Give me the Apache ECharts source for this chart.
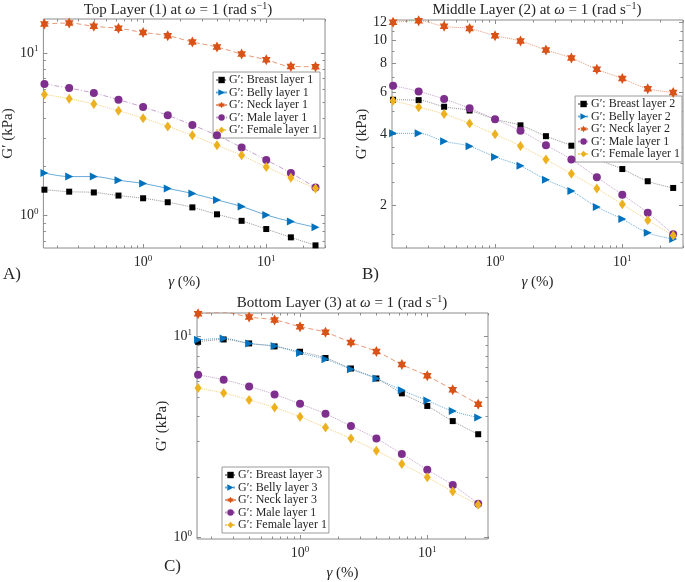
<!DOCTYPE html>
<html><head><meta charset="utf-8">
<script src="https://cdn.jsdelivr.net/npm/echarts@6/dist/echarts.min.js"></script>
<style>html,body{margin:0;padding:0;background:#fff}#c{width:685px;height:582px}</style>
</head><body><div id="c"></div>
<script>
// strain amplitude gamma (%)
const strain = [0.158, 0.251, 0.398, 0.631, 1, 1.585, 2.512, 3.981, 6.31, 10, 15.85, 25.12];

// Panel A: Top layer (1) G' (kPa)
const A_breast = [1.445, 1.405, 1.39, 1.33, 1.28, 1.21, 1.125, 1.02, 0.93, 0.828, 0.736, 0.657];
const A_belly  = [1.83, 1.74, 1.74, 1.65, 1.58, 1.47, 1.37, 1.25, 1.14, 1.01, 0.92, 0.848];
const A_neck   = [15.1, 15.3, 14.6, 14.2, 13.4, 12.8, 11.7, 10.9, 9.86, 9.1, 8.28, 8.24];
const A_male   = [6.45, 6.09, 5.68, 5.17, 4.66, 4.14, 3.61, 3.12, 2.63, 2.20, 1.83, 1.49];
const A_female = [5.57, 5.24, 4.86, 4.42, 3.98, 3.54, 3.12, 2.71, 2.35, 1.99, 1.71, 1.47];

// Panel B: Middle layer (2)
const B_breast = [5.6, 5.58, 5.23, 5.04, 4.63, 4.36, 3.92, 3.57, 3.14, 2.84, 2.52, 2.36];
const B_belly  = [4.03, 4.03, 3.73, 3.55, 3.20, 2.93, 2.56, 2.29, 1.96, 1.74, 1.52, 1.43];
const B_neck   = [11.96, 12.16, 11.5, 11.25, 10.5, 9.96, 9.12, 8.43, 7.55, 6.9, 6.24, 6.02];
const B_male   = [6.43, 6.08, 5.64, 5.15, 4.63, 4.13, 3.59, 3.12, 2.62, 2.21, 1.85, 1.50];
const B_female = [5.55, 5.21, 4.87, 4.44, 3.99, 3.56, 3.12, 2.71, 2.35, 2.01, 1.72, 1.48];

// Panel C: Bottom layer (3)
const C_breast = [9.41, 9.67, 9.24, 8.93, 8.40, 7.82, 6.93, 6.18, 5.21, 4.51, 3.79, 3.26];
const C_belly  = [9.63, 9.78, 9.24, 8.96, 8.27, 7.70, 6.87, 6.18, 5.40, 4.80, 4.25, 3.95];
const C_neck   = [13.0, 13.2, 12.5, 12.1, 11.2, 10.5, 9.34, 8.43, 7.25, 6.37, 5.43, 4.60];
const C_male   = [6.45, 6.09, 5.64, 5.15, 4.62, 4.12, 3.58, 3.10, 2.60, 2.17, 1.82, 1.47];
const C_female = [5.54, 5.23, 4.83, 4.43, 3.98, 3.52, 3.10, 2.70, 2.32, 1.99, 1.69, 1.45];

// tick values
const xMajor = [1, 10];
const xMinor = [0.2,0.3,0.4,0.5,0.6,0.7,0.8,0.9,2,3,4,5,6,7,8,9,20,30];
const yMajorAC = [1, 10];
const yMinorA = [0.7,0.8,0.9,2,3,4,5,6,7,8,9];
const yMinorC = [2,3,4,5,6,7,8,9];
const yMajorB = [2,4,6,8,10,12];
const yMinorB = [1.5,2.5,3,3.5,5,7,9,11];

const names = ['Breast','Belly','Neck','Male','Female'];

const SERIF = "'Liberation Serif', 'DejaVu Serif', serif";
const TXT = '#262626';
const AXC = '#8c8c8c';
const COL = {Breast:'#000000', Belly:'#0072BD', Neck:'#D95319', Male:'#7E2F8E', Female:'#EDB120'};
const LINEC = {Breast:'rgba(60,60,60,0.55)', Belly:'rgba(0,114,189,0.6)', Neck:'rgba(217,83,25,0.6)', Male:'rgba(126,47,142,0.45)', Female:'rgba(237,177,32,0.6)'};
const HEX = 'path://M0,-10L2.887,-5L8.66,-5L5.774,0L8.66,5L2.887,5L0,10L-2.887,5L-8.66,5L-5.774,0L-8.66,-5L-2.887,-5Z';
const SYM = {Breast:{s:'rect',z:6}, Belly:{s:'triangle',z:[8,8],r:-90}, Neck:{s:HEX,z:[10,11]}, Male:{s:'circle',z:8}, Female:{s:'diamond',z:[7,10]}};

const grids = [
  {left:31, top:19, width:294, height:229, ymin:0.633, ymax:16.2, yMajor:yMajorAC, yMinor:yMinorA, pow:true, yGap:22,
   data:[A_breast,A_belly,A_neck,A_male,A_female], lineType:{Breast:'dotted',Belly:'solid',Neck:[5,3],Male:[5,2,1,2],Female:'dotted'},
   legendNames:['Breast layer 1','Belly layer 1','Neck layer 1','Male layer 1','Female layer 1'], legendPos:{right:365, top:72}, suffix:''},
  {left:392, top:20, width:291, height:228, ymin:1.31, ymax:12.24, yMajor:yMajorB, yMinor:yMinorB, pow:false, yGap:19,
   data:[B_breast,B_belly,B_neck,B_male,B_female], lineType:{Breast:'dotted',Belly:'dotted',Neck:'dotted',Male:'dotted',Female:'dotted'},
   legendNames:['Breast layer 2','Belly layer 2','Neck layer 2','Male layer 1','Female layer 1'], legendPos:{right:3, top:96}, suffix:'\u200B'},
  {left:197, top:313, width:291, height:229, ymin:0.98, ymax:13.1, yMajor:yMajorAC, yMinor:yMinorC, pow:true, yGap:22,
   data:[C_breast,C_belly,C_neck,C_male,C_female], lineType:{Breast:'dotted',Belly:'dotted',Neck:[5,3],Male:'dotted',Female:'dotted'},
   legendNames:['Breast layer 3','Belly layer 3','Neck layer 3','Male layer 1','Female layer 1'], legendPos:{left:222, top:467}, suffix:'\u200B\u200B'}
];

const powFmt = v => '10{s|' + Math.round(Math.log10(v)) + '}';
const powRich = {s:{fontSize:9, fontFamily:SERIF, color:TXT, padding:[0,0,8,0]}};

const option = {animation:false, grid:[], xAxis:[], yAxis:[], series:[], legend:[], title:[]};

grids.forEach((g, gi) => {
  option.grid.push({left:g.left, top:g.top, width:g.width, height:g.height, show:true, borderColor:AXC, borderWidth:1, backgroundColor:'#fff'});
  const xBase = {type:'log', logBase:10, gridIndex:gi, min:0.155, max:30, axisLine:{show:false}, splitLine:{show:false}};
  const yBase = {type:'log', logBase:10, gridIndex:gi, min:g.ymin, max:g.ymax, axisLine:{show:false}, splitLine:{show:false}};
  const xMain = option.xAxis.length;
  ['bottom','top'].forEach((pos, pi) => {
    option.xAxis.push(Object.assign({}, xBase, {position:pos,
      name: pi===0 ? '{i|γ} (%)' : '', nameLocation:'middle', nameGap:27,
      nameTextStyle:{fontFamily:SERIF, fontSize:15, color:TXT, rich:{i:{fontStyle:'italic', fontFamily:SERIF, fontSize:15, color:TXT}}},
      axisTick:{show:true, inside:true, length:4, customValues:xMajor, lineStyle:{color:AXC}},
      axisLabel:{show:pi===0, customValues:xMajor, formatter:powFmt, fontFamily:SERIF, fontSize:14, color:TXT, margin:6, rich:powRich}}));
    option.xAxis.push(Object.assign({}, xBase, {position:pos,
      axisTick:{show:true, inside:true, length:2.5, customValues:xMinor, lineStyle:{color:AXC}},
      axisLabel:{show:false}}));
  });
  const yMain = option.yAxis.length;
  ['left','right'].forEach((pos, pi) => {
    option.yAxis.push(Object.assign({}, yBase, {position:pos,
      name: pi===0 ? 'G′ (kPa)' : '', nameLocation:'middle', nameGap:g.yGap,
      nameTextStyle:{fontFamily:SERIF, fontSize:15, color:TXT},
      axisTick:{show:true, inside:true, length:4, customValues:g.yMajor, lineStyle:{color:AXC}},
      axisLabel:{show:pi===0, customValues:g.yMajor, formatter: g.pow ? powFmt : (v => String(Math.round(v))), fontFamily:SERIF, fontSize:14, color:TXT, margin:5, rich:powRich}}));
    option.yAxis.push(Object.assign({}, yBase, {position:pos,
      axisTick:{show:true, inside:true, length:2.5, customValues:g.yMinor, lineStyle:{color:AXC}},
      axisLabel:{show:false}}));
  });
  const legendData = [];
  names.forEach((n, si) => {
    const nm = 'G′: ' + g.legendNames[si] + g.suffix;
    legendData.push(nm);
    const sy = SYM[n];
    option.series.push({
      name:nm, type:'line', xAxisIndex:xMain, yAxisIndex:yMain, smooth:0.35,
      data: strain.map((x, i) => [x, g.data[si][i]]),
      symbol: sy.s, symbolSize: sy.z, symbolRotate: sy.r || 0, symbolKeepAspect:true,
      itemStyle:{color:COL[n]}, lineStyle:{color:LINEC[n], width:1, type:g.lineType[n]},
      z: 2 + si
    });
  });
  option.legend.push(Object.assign({orient:'vertical', data:legendData, backgroundColor:'#fff', borderColor:'#9a9a9a', borderWidth:1,
    padding:[2,2,2,2], itemGap:0.5, itemWidth:11, itemHeight:8, selectedMode:false,
    textStyle:{fontFamily:SERIF, fontSize:12, color:TXT, padding:[0,0,0,-3]}}, g.legendPos));
});

const titleRich = {i:{fontStyle:'italic', fontFamily:SERIF, fontSize:15, color:TXT}, s:{fontFamily:SERIF, fontSize:10, color:TXT, padding:[0,0,8,0]}};
const mkTitle = (txt, x, y) => ({text:txt, left:x, top:y, textAlign:'center', padding:0,
  textStyle:{fontFamily:SERIF, fontSize:15, fontWeight:'normal', color:TXT, rich:titleRich}});
option.title.push(mkTitle('Top Layer (1) at {i|ω} = 1 (rad s{s|−1})', 178, 1));
option.title.push(mkTitle('Middle Layer (2) at {i|ω} = 1 (rad s{s|−1})', 537, 1));
option.title.push(mkTitle('Bottom Layer (3) at {i|ω} = 1 (rad s{s|−1})', 342, 294));
const panel = (t, x, y) => ({text:t, left:x, top:y, padding:0, textStyle:{fontFamily:SERIF, fontSize:17, fontWeight:'normal', color:TXT}});
option.title.push(panel('A)', 3, 266));
option.title.push(panel('B)', 362, 266));
option.title.push(panel('C)', 164, 558));

const chart = echarts.init(document.getElementById('c'), null, {renderer:'canvas'});
chart.setOption(option);
</script></body></html>
